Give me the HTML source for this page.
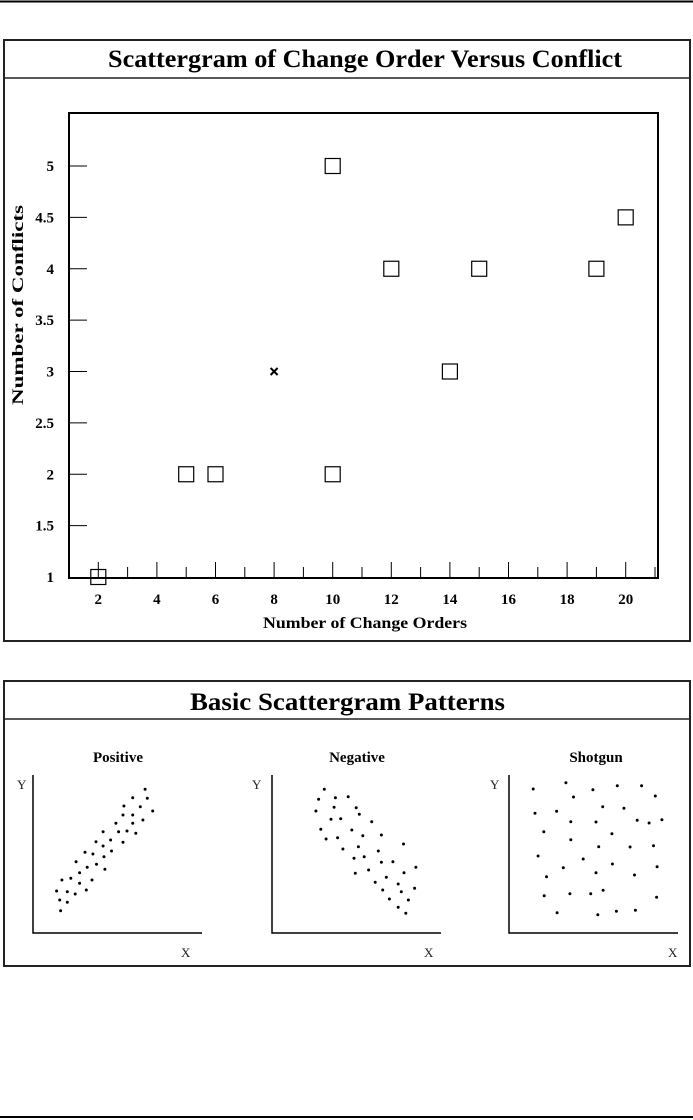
<!DOCTYPE html>
<html><head><style>
body{margin:0;background:#fff;}
svg{display:block;font-family:"Liberation Serif",serif;}
</style></head><body>
<svg id="s" width="693" height="1120" xmlns="http://www.w3.org/2000/svg">
<rect width="693" height="1120" fill="#fff"/>
<line x1="0" y1="1.5" x2="693" y2="1.5" stroke="#000" stroke-width="2"/>
<line x1="0" y1="1117" x2="693" y2="1117" stroke="#000" stroke-width="2"/>
<rect x="4" y="40" width="686" height="601" fill="none" stroke="#222" stroke-width="2"/>
<line x1="4" y1="78" x2="690" y2="78" stroke="#222" stroke-width="1.5"/>
<text x="108" y="67" font-size="25" font-weight="bold" textLength="514" lengthAdjust="spacingAndGlyphs">Scattergram of Change Order Versus Conflict</text>
<rect x="69" y="113" width="589" height="465" fill="none" stroke="#000" stroke-width="2"/>
<g id="ticks" stroke="#000" stroke-width="1"></g>
<g font-size="15" font-weight="bold" text-anchor="end" id="ylab"></g>
<g font-size="15" font-weight="bold" text-anchor="middle" id="xlab"></g>
<text x="263" y="628" font-size="16" font-weight="bold" textLength="204" lengthAdjust="spacingAndGlyphs">Number of Change Orders</text>
<text transform="translate(23,405) rotate(-90)" font-size="16" font-weight="bold" textLength="200" lengthAdjust="spacingAndGlyphs">Number of Conflicts</text>
<g id="pts" fill="none" stroke="#000" stroke-width="1.2"></g>
<rect x="4" y="681" width="686" height="285" fill="none" stroke="#222" stroke-width="2"/>
<line x1="4" y1="719" x2="690" y2="719" stroke="#222" stroke-width="1.5"/>
<text x="190" y="710" font-size="25" font-weight="bold" textLength="315" lengthAdjust="spacingAndGlyphs">Basic Scattergram Patterns</text>
<g font-size="15" font-weight="bold" text-anchor="middle">
<text x="118" y="762">Positive</text><text x="357" y="762">Negative</text><text x="596" y="762">Shotgun</text>
</g>
<g stroke="#000" stroke-width="1.5" fill="none">
<path d="M33 775V933H202"/><path d="M272 775V933H441"/><path d="M509 775V933H678"/>
</g>
<g font-size="13" fill="#222">
<text x="17" y="789">Y</text><text x="181" y="957">X</text>
<text x="252" y="789">Y</text><text x="424" y="957">X</text>
<text x="490" y="789">Y</text><text x="668" y="957">X</text>
</g>
<g id="dots" fill="#000"></g>
</svg>
<script>
var NS="http://www.w3.org/2000/svg";
function el(p,t,a,txt){var e=document.createElementNS(NS,t);for(var k in a)e.setAttribute(k,a[k]);if(txt!=null)e.textContent=txt;document.getElementById(p).appendChild(e);}
function X(v){return 69+(v-1)*29.3;}function Y(v){return 577-(v-1)*102.75;}
for(var i=2;i<=21;i++){var h=i%2==0?16:11;el("ticks","line",{x1:X(i),y1:578,x2:X(i),y2:578-h});}
for(var i=2;i<=20;i+=2)el("xlab","text",{x:X(i),y:604},i);
var ys=[1,1.5,2,2.5,3,3.5,4,4.5,5];
ys.forEach(function(v){if(v>1)el("ticks","line",{x1:69,y1:Y(v),x2:87,y2:Y(v)});el("ylab","text",{x:54,y:Y(v)+5},String(v));});
[[2,1],[5,2],[6,2],[10,2],[10,5],[12,4],[14,3],[15,4],[19,4],[20,4.5]].forEach(function(p){el("pts","rect",{x:X(p[0])-7.5,y:Y(p[1])-7.5,width:15,height:15});});
var cx=X(8),cy=Y(3);el("pts","path",{d:"M"+(cx-3.5)+" "+(cy-3.5)+"l7 7M"+(cx+3.5)+" "+(cy-3.5)+"l-7 7","stroke-width":2});
var d=[[328,148],[300,173],[333,175],[280,198],[317,200],[345,213],[300,225],[278,225],[323,240],[262,250],[300,250],[233,275],[268,275],[287,273],[307,280],[217,305],[250,300],[278,307],[233,318],[192,337],[210,342],[252,333],[235,350],[172,365],[197,382],[218,373],[237,388],[180,398],[140,420],[160,415],[208,420],[180,430],[195,450],[128,453],[152,455],[170,462],[135,480],[152,487],[137,512],
[733,148],[720,178],[758,173],[787,170],[805,203],[714,213],[755,202],[812,223],[748,238],[770,236],[840,245],[725,268],[795,270],[737,297],[763,293],[820,287],[862,285],[775,327],[810,320],[855,333],[912,312],[800,355],[823,350],[862,367],[888,365],[803,400],[833,390],[940,382],[848,427],[873,412],[913,398],[900,432],[865,450],[907,455],[937,445],[880,477],[923,480],[900,502],[917,520],
[1205,147],[1279,128],[1340,149],[1395,137],[1450,137],[1296,171],[1481,168],[1209,220],[1258,214],[1362,200],[1410,205],[1290,245],[1347,246],[1440,241],[1467,249],[1496,239],[1229,275],[1383,281],[1290,299],[1353,320],[1424,321],[1477,317],[1216,348],[1318,357],[1384,372],[1273,383],[1485,380],[1235,410],[1347,398],[1434,405],[1230,467],[1288,461],[1335,461],[1363,451],[1484,472],[1259,518],[1351,524],[1393,514],[1436,511]];
d.forEach(function(p){el("dots","circle",{cx:(p[0]/2.26).toFixed(1),cy:(740+p[1]/3).toFixed(1),r:1.5});});
</script>
</body></html>
